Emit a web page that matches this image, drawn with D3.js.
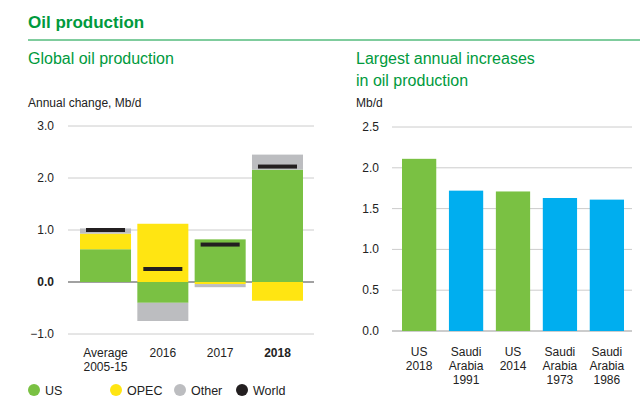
<!DOCTYPE html><html><head><meta charset="utf-8"><script src="https://cdn.jsdelivr.net/npm/d3@7"></script>
<style>body{margin:0;background:#fff}text{font-family:Arial,"Liberation Sans",sans-serif}</style></head><body><svg id="c" width="640" height="409"></svg><script>
const leftCats=[["Average","2005-15"],["2016"],["2017"],["2018"]];
const usVals=[0.63,-0.40,0.82,2.16];
const opecVals=[0.30,1.12,-0.04,-0.36];
const otherVals=[0.10,-0.35,-0.06,0.29];
const worldVals=[1.00,0.25,0.72,2.22];
const leftTicks=[-1,0,1,2,3];
const rightCats=[["US","2018"],["Saudi","Arabia","1991"],["US","2014"],["Saudi","Arabia","1973"],["Saudi","Arabia","1986"]];
const rightVals=[2.11,1.72,1.71,1.63,1.61];
const rightColors=["#7ac143","#00aeef","#7ac143","#00aeef","#00aeef"];
const rightTicks=[0,0.5,1,1.5,2,2.5];
const C={US:"#7ac143",OPEC:"#ffe512",Other:"#bcbdc0",World:"#231f20"};
const svg=d3.select("#c");
const G="#009a3d";
svg.append("text").attr("x",28).attr("y",28).attr("fill",G).attr("font-weight","bold").attr("font-size",17).text("Oil production");
svg.append("line").attr("x1",28).attr("x2",640).attr("y1",40).attr("y2",40).attr("stroke",G).attr("stroke-width",1);
svg.append("text").attr("x",28).attr("y",64).attr("fill",G).attr("font-size",16).text("Global oil production");
svg.append("text").attr("x",356).attr("y",64).attr("fill",G).attr("font-size",16).text("Largest annual increases");
svg.append("text").attr("x",356).attr("y",86).attr("fill",G).attr("font-size",16).text("in oil production");
svg.append("text").attr("x",28).attr("y",107).attr("font-size",12).attr("fill","#222").text("Annual change, Mb/d");
svg.append("text").attr("x",356).attr("y",107).attr("font-size",12).attr("fill","#222").text("Mb/d");
// left
const yL=d3.scaleLinear().domain([-1,3]).range([334,126]);
const xL=d3.scaleBand().domain(d3.range(4)).range([80,303]).paddingInner(0.11).paddingOuter(0.0);
const gl=svg.append("g");
leftTicks.forEach(t=>{
 gl.append("line").attr("x1",68).attr("x2",314).attr("y1",yL(t)).attr("y2",yL(t)).attr("stroke",t===0?"#444":"#ccc").attr("stroke-width",t===0?1.2:1);
 gl.append("text").attr("x",54).attr("y",yL(t)+4).attr("text-anchor","end").attr("font-size",12).attr("fill","#222").attr("font-weight",t===0?"bold":null).text(d3.format(".1f")(t));
});
d3.range(4).forEach(i=>{
 let pos=0,neg=0;
 [["US",usVals],["OPEC",opecVals],["Other",otherVals]].forEach(([k,arr])=>{
  const v=arr[i];let y0,y1;
  if(v>=0){y0=pos;y1=pos+v;pos=y1}else{y0=neg;y1=neg+v;neg=y1}
  gl.append("rect").attr("x",xL(i)).attr("width",xL.bandwidth()).attr("y",yL(Math.max(y0,y1))).attr("height",Math.abs(yL(y0)-yL(y1))).attr("fill",C[k]);
 });
 gl.append("rect").attr("x",xL(i)+6).attr("width",xL.bandwidth()-12).attr("y",yL(worldVals[i])-2).attr("height",4).attr("fill",C.World);
 leftCats[i].forEach((l,j)=>gl.append("text").attr("x",xL(i)+xL.bandwidth()/2).attr("y",357+j*14).attr("text-anchor","middle").attr("font-size",12).attr("fill","#222").attr("font-weight",i===3?"bold":null).text(l));
});
// legend
const leg=[["US",28],["OPEC",110],["Other",174],["World",236]];
leg.forEach(([k,x])=>{svg.append("circle").attr("cx",x+6).attr("cy",390).attr("r",6).attr("fill",C[k]);
 svg.append("text").attr("x",x+17).attr("y",394.5).attr("font-size",12.5).attr("fill","#222").text(k);});
// right
const yR=d3.scaleLinear().domain([0,2.5]).range([331,127]);
const xR=d3.scaleBand().domain(d3.range(5)).range([402,624]).paddingInner(0.27);
rightTicks.forEach(t=>{svg.append("line").attr("x1",392).attr("x2",632).attr("y1",yR(t)).attr("y2",yR(t)).attr("stroke",t===0?"#999":"#ccc");
 svg.append("text").attr("x",379).attr("y",yR(t)+4).attr("text-anchor","end").attr("font-size",12).attr("fill","#222").text(d3.format(".1f")(t));});
rightVals.forEach((v,i)=>{svg.append("rect").attr("x",xR(i)).attr("width",xR.bandwidth()).attr("y",yR(v)).attr("height",yR(0)-yR(v)).attr("fill",rightColors[i]);
 rightCats[i].forEach((l,j)=>svg.append("text").attr("x",xR(i)+xR.bandwidth()/2).attr("y",356+j*14).attr("text-anchor","middle").attr("font-size",12).attr("fill","#222").text(l));});
</script></body></html>
